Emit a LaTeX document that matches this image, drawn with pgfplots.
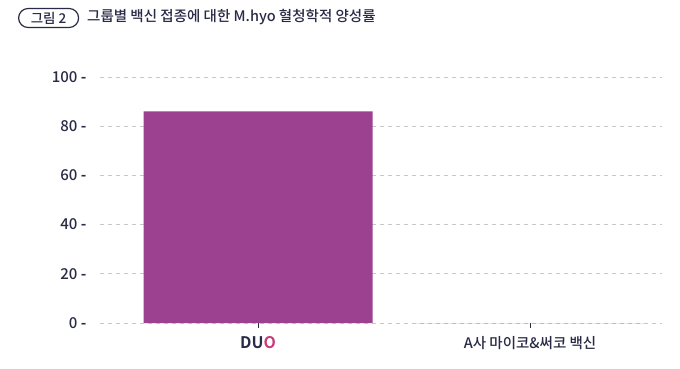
\documentclass[border=0pt]{standalone}
\usepackage{pgfplots}
\pgfplotsset{compat=1.18}
\usepackage{fontspec}
\setmainfont{Noto Sans CJK KR}[UprightFont=* Medium, BoldFont=* Bold]
\definecolor{barc}{RGB}{155,65,143}
\definecolor{navy}{RGB}{40,42,70}
\definecolor{pinkc}{RGB}{200,60,120}
\definecolor{gridc}{RGB}{200,200,200}
\begin{document}
\begin{tikzpicture}[x=1pt,y=1pt]
\path[use as bounding box] (0,0) rectangle (680,368);
\node[draw=navy, line width=1.2pt, rounded corners=9.5pt, minimum width=60pt, minimum height=19pt, inner sep=0pt, text=navy, font=\fontsize{13.5}{15}\selectfont, anchor=west] at (18,350) {그림 2};
\node[anchor=west, text=navy, font=\fontsize{14.5}{16}\selectfont, inner sep=0pt] at (87,350.5) {그룹별 백신 접종에 대한 M.hyo 혈청학적 양성률};
\begin{axis}[
  at={(100pt,45pt)}, anchor=south west,
  scale only axis, width=562pt, height=246pt,
  xmin=-0.581, xmax=1.485, ymin=0, ymax=100,
  axis line style={draw=none},
  tick pos=left,
  ytick={0,20,40,60,80,100},
  yticklabel={\pgfmathprintnumber{\tick}\hspace{3.5pt}\textbf{-}},
  yticklabel style={text=navy, font=\fontsize{15}{17}\selectfont},
  /pgf/number format/assume math mode=true,
  ymajorgrids, grid style={gridc, dash pattern=on 4pt off 4pt, line width=0.8pt},
  major y tick style={draw=none},
  xtick={0,1},
  xticklabels={{\bfseries\fontsize{16}{18}\selectfont DU\textcolor{pinkc}{O}}, {A사 마이코\&써코 백신}},
  xticklabel style={text=navy, font=\fontsize{14.5}{16}\selectfont},
  major x tick style={draw=navy, line width=0.8pt, dash pattern=on 0pt off 5pt on 5pt off 0pt},
  major tick length=10pt,
  tick align=outside,
  clip=false,
]
\addplot[ybar, bar width=0.842, fill=barc, draw=none] coordinates {(0,86) (1,0)};
\end{axis}
\end{tikzpicture}
\end{document}
